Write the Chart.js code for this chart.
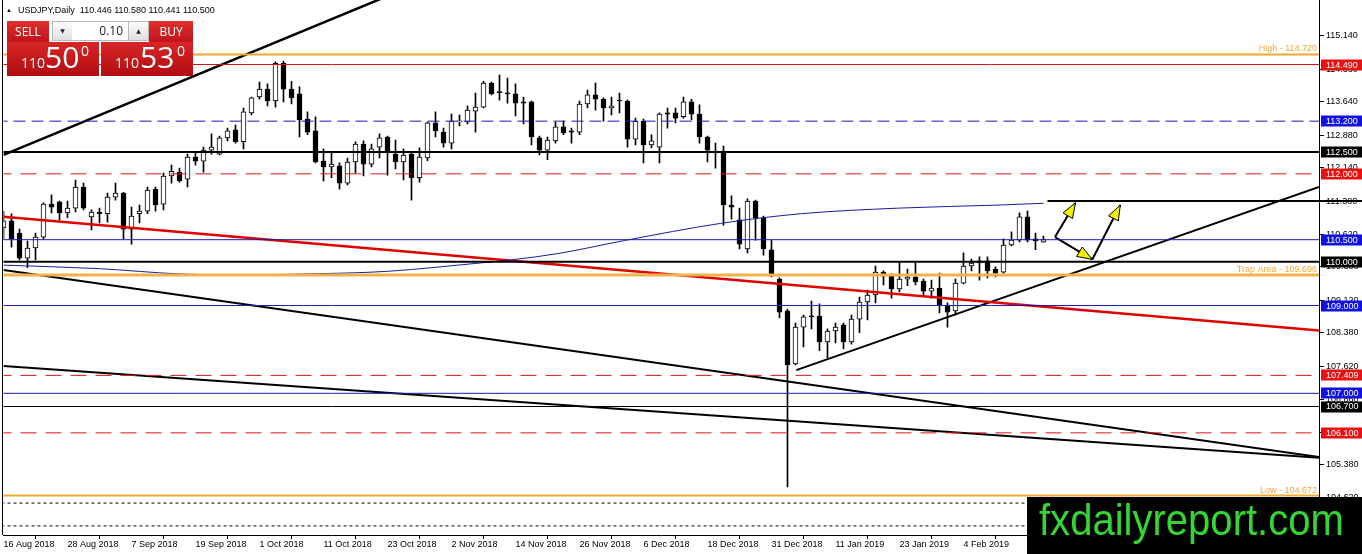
<!DOCTYPE html>
<html>
<head>
<meta charset="utf-8">
<script src="https://cdn.jsdelivr.net/npm/chart.js@4.4.1/dist/chart.umd.min.js"></script>
<style>
  html, body { margin: 0; padding: 0; background: #fff; }
  #wrap { position: relative; width: 1362px; height: 554px; overflow: hidden; }
  #chart { position: absolute; left: 0; top: 0; }
  .ui { position: absolute; font-family: 'Liberation Sans', Arial, sans-serif; white-space: pre; }
  #tri { left: 6px; top: 6px; font-size: 6px; line-height: 9px; }
  #hdr { left: 18px; top: 6px; font-size: 9px; line-height: 9px; color: #000; }
  .red { background: linear-gradient(#e0302f, #c0141a); color: #fff; }
  .btn { top: 21px; height: 21px; font: 12px 'Open Sans', sans-serif; line-height: 21px; text-align: center; }
  #sell { left: 7px; width: 42px; }
  #buy { left: 149px; width: 44px; }
  .spin { top: 21px; height: 18px; border: 1px solid #b9b9b9; background: linear-gradient(#fdfdfd, #dedede);
          font-size: 6px; line-height: 18px; text-align: center; color: #222; font-family: 'DejaVu Sans', sans-serif; }
  #down { left: 52px; width: 19px; }
  #up { left: 128px; width: 19px; }
  #lot { top: 21px; left: 72px; width: 51px; height: 18px; padding-right: 5px; border-top: 1px solid #b9b9b9; border-bottom: 1px solid #b9b9b9;
         background: #fff; font: 12px 'Open Sans', sans-serif; line-height: 18px; text-align: right; color: #222; }
  .big { top: 42px; width: 92px; height: 34px; background: linear-gradient(#d82628, #b20d10); color: #fff; }
  .big span { position: absolute; font-family: 'Open Sans', sans-serif; line-height: 1; }
  .s { font-size: 14px; top: 14px; }
  .b { font-size: 30px; top: 0px; }
  .p { font-size: 14px; top: 2px; }
  #bigS { left: 7px; }
  #bigB { left: 101px; }
  #mark { left: 1027px; top: 497px; width: 335px; height: 57px; background: #000; }
  #mark span { position: absolute; left: 12px; top: 1px; font: 44px 'Liberation Sans', Arial, sans-serif; line-height: 44px;
               color: #35d633; transform: scaleX(0.91); transform-origin: left top; }
</style>
</head>
<body>
<div id="wrap">
  <canvas id="chart" width="1362" height="554"></canvas>
  <div class="ui" id="tri">▲</div>
  <div class="ui" id="hdr">USDJPY,Daily  110.446 110.580 110.441 110.500</div>
  <div class="ui btn red" id="sell">SELL</div>
  <div class="ui spin" id="down">▼</div>
  <div class="ui" id="lot">0.10</div>
  <div class="ui spin" id="up">▲</div>
  <div class="ui btn red" id="buy">BUY</div>
  <div class="ui big" id="bigS"><span class="s" style="left:14px">110</span><span class="b" style="left:38px">50</span><span class="p" style="left:74px">0</span></div>
  <div class="ui big" id="bigB"><span class="s" style="left:14px">110</span><span class="b" style="left:39px">53</span><span class="p" style="left:76px">0</span></div>
  <div class="ui" id="mark"><span>fxdailyreport.com</span></div>
</div>
<script>
/* ---------- daten ---------- */
const dateLabels = ['16 Aug 2018', '28 Aug 2018', '7 Sep 2018', '19 Sep 2018', '1 Oct 2018', '11 Oct 2018',
  '23 Oct 2018', '2 Nov 2018', '14 Nov 2018', '26 Nov 2018', '6 Dec 2018', '18 Dec 2018', '31 Dec 2018',
  '11 Jan 2019', '23 Jan 2019', '4 Feb 2019'];
const dateTickBars = [0, 8, 16, 24, 32, 40, 48, 56, 64, 72, 80, 88, 96, 104, 112, 120];
const priceTicks = [115.14, 114.38, 113.64, 112.88, 112.14, 111.38, 110.62, 109.88, 109.12, 108.38,
  107.62, 106.86, 106.10, 105.38, 104.62];

// daily candles, bar 0 = 16 Aug 2018
const opens = [110.77, 110.93, 110.65, 110.08, 110.31, 110.56, 111.31, 111.36, 111.11, 111.22,
  111.70, 111.02, 111.13, 111.09, 111.47, 111.56, 110.74, 111.09, 111.15, 111.65,
  111.31, 111.95, 112.04, 111.88, 112.38, 112.29, 112.54, 112.45, 112.82, 113.00,
  112.73, 113.39, 113.75, 113.93, 113.66, 114.52, 113.93, 113.82, 113.25, 112.98,
  112.29, 112.16, 112.18, 111.79, 112.27, 112.68, 112.22, 112.61, 112.84, 112.45,
  112.27, 112.45, 111.91, 112.36, 113.16, 112.95, 112.70, 113.18, 113.18, 113.43,
  113.52, 114.07, 113.87, 113.84, 113.82, 113.64, 113.64, 112.82, 112.54, 112.75,
  113.07, 112.98, 112.95, 113.59, 113.80, 113.70, 113.50, 113.68, 113.66, 112.79,
  113.20, 112.66, 112.61, 113.39, 113.39, 113.30, 113.64, 113.36, 112.84, 112.50,
  112.52, 111.29, 110.95, 110.29, 111.38, 111.00, 110.27, 109.60, 108.88, 107.67,
  108.51, 108.76, 108.76, 108.17, 108.42, 108.56, 108.17, 108.69, 109.08, 109.24,
  109.76, 109.67, 109.38, 109.60, 109.65, 109.56, 109.33, 109.40, 109.01, 108.88,
  109.51, 109.90, 110.02, 110.02, 109.83, 109.76, 110.38, 110.49, 111.02, 110.52,
  110.446];
const highs = [111.15, 111.09, 110.74, 110.47, 110.65, 111.34, 111.52, 111.38, 111.38, 111.86,
  111.79, 111.18, 111.22, 111.56, 111.79, 111.58, 111.24, 111.29, 111.70, 111.70,
  112.02, 112.20, 112.13, 112.45, 112.47, 112.61, 112.91, 112.86, 113.04, 113.11,
  113.50, 113.75, 114.09, 114.05, 114.55, 114.57, 114.11, 113.98, 113.41, 113.30,
  112.57, 112.50, 112.25, 112.36, 112.73, 112.75, 112.68, 112.91, 112.86, 112.77,
  112.57, 112.50, 112.59, 113.18, 113.41, 113.04, 113.36, 113.34, 113.55, 113.84,
  114.11, 114.09, 114.25, 114.18, 114.05, 113.75, 113.66, 112.86, 112.84, 113.18,
  113.20, 113.04, 113.66, 113.91, 114.07, 113.73, 113.75, 113.84, 113.68, 113.27,
  113.25, 112.89, 113.39, 113.50, 113.50, 113.75, 113.70, 113.57, 112.86, 112.70,
  112.63, 111.50, 111.22, 111.43, 111.40, 111.04, 110.49, 109.63, 108.92, 108.60,
  108.78, 109.10, 109.04, 108.47, 108.60, 108.60, 108.78, 109.19, 109.35, 109.90,
  109.79, 109.72, 109.99, 109.83, 109.97, 109.60, 109.58, 109.74, 109.06, 109.60,
  110.20, 110.06, 110.11, 110.11, 109.88, 110.52, 110.68, 111.11, 111.15, 110.65,
  110.58];
const lows = [110.52, 110.33, 110.04, 109.86, 110.04, 110.52, 111.11, 110.95, 111.00, 111.13,
  111.18, 110.72, 110.88, 110.90, 111.40, 110.52, 110.40, 110.88, 111.09, 111.15,
  111.18, 111.79, 111.81, 111.70, 112.20, 112.04, 112.45, 112.43, 112.75, 112.70,
  112.57, 113.34, 113.70, 113.55, 113.52, 113.64, 113.59, 112.84, 112.89, 112.25,
  111.84, 111.91, 111.65, 111.75, 112.02, 111.95, 112.16, 112.36, 111.97, 112.11,
  111.86, 111.40, 111.81, 112.30, 112.84, 112.61, 112.57, 113.09, 113.14, 112.95,
  113.50, 113.80, 113.68, 113.61, 113.32, 113.14, 112.66, 112.43, 112.32, 112.70,
  112.89, 112.70, 112.89, 113.50, 113.45, 113.20, 113.34, 113.39, 112.61, 112.66,
  112.25, 112.59, 112.25, 113.04, 113.16, 113.27, 113.23, 112.70, 112.27, 112.13,
  110.83, 110.97, 110.29, 110.20, 110.49, 110.15, 109.65, 108.72, 104.87, 107.65,
  108.06, 108.47, 107.97, 107.81, 108.15, 108.01, 108.12, 108.38, 108.67, 109.06,
  109.47, 109.17, 109.31, 109.45, 109.47, 109.20, 109.17, 108.83, 108.51, 108.78,
  109.49, 109.79, 109.58, 109.63, 109.65, 109.74, 110.36, 110.45, 110.45, 110.27,
  110.441];
const closes = [110.93, 110.52, 110.08, 110.31, 110.56, 111.31, 111.24, 111.11, 111.22, 111.70,
  111.22, 111.13, 111.09, 111.47, 111.56, 110.74, 111.04, 111.15, 111.63, 111.29,
  111.95, 112.06, 111.84, 112.38, 112.29, 112.54, 112.61, 112.82, 112.98, 112.73,
  113.41, 113.73, 113.93, 113.66, 114.52, 113.93, 113.73, 113.23, 112.95, 112.27,
  112.16, 112.22, 111.79, 112.27, 112.68, 112.22, 112.57, 112.82, 112.48, 112.27,
  112.43, 111.91, 112.38, 113.16, 112.98, 112.70, 113.20, 113.21, 113.45, 113.52,
  114.07, 113.82, 113.85, 113.82, 113.61, 113.61, 112.84, 112.54, 112.77, 113.07,
  112.93, 112.95, 113.59, 113.80, 113.70, 113.50, 113.55, 113.66, 112.79, 113.20,
  112.66, 112.75, 113.36, 113.36, 113.27, 113.64, 113.36, 112.84, 112.54, 112.48,
  111.29, 111.24, 110.40, 111.38, 111.00, 110.29, 109.67, 108.85, 107.65, 108.51,
  108.74, 108.74, 108.17, 108.42, 108.51, 108.17, 108.69, 109.08, 109.24, 109.76,
  109.67, 109.38, 109.60, 109.65, 109.54, 109.33, 109.40, 109.01, 108.85, 109.51,
  109.90, 109.97, 109.97, 109.79, 109.74, 110.38, 110.49, 111.02, 110.49, 110.47,
  110.50];

// moving average
const maBars = [0, 12, 22, 28.6, 40.6, 48, 59.6, 63.5, 69.5, 77.6, 89.6, 99.6, 112, 124.6, 130];
const maValues = [109.92, 109.84, 109.72, 109.70, 109.73, 109.78, 109.97, 110.04, 110.19, 110.48,
  110.87, 111.09, 111.22, 111.29, 111.33];

// horizontal levels
const levelPrices = [114.72, 114.49, 113.2, 112.5, 112.0, 110.5, 110.0, 109.696, 109.0, 107.409,
  107.0, 106.7, 106.1, 104.672, 104.50, 103.98];
const levelKinds = ['orange', 'redThin', 'blueDash', 'black', 'redDash', 'blue', 'black', 'trap', 'blue',
  'redDash', 'blue', 'blackThin', 'redDash', 'orange', 'dotted', 'dotted'];

// tagged prices on the right axis
const tagPrices = [114.49, 113.2, 112.5, 112.0, 110.5, 110.0, 109.0, 107.409, 107.0, 106.7, 106.1];
const tagKinds = ['red', 'blue', 'black', 'red', 'blue', 'black', 'blue', 'red', 'blue', 'black', 'red'];

const noteTexts = ['High - 114.720', 'Trap Area - 109.696', 'Low - 104.672'];
const notePrices = [114.72, 109.696, 104.672];

// trend lines as [bar, price] pairs
const upperTrend = [[0, 112.43], [48, 116.05]];
const redTrend = [[0, 111.02], [164.44, 108.43]];
const downTrendA = [[0, 109.81], [164.44, 105.55]];
const downTrendB = [[0, 107.62], [164.44, 105.53]];
const supportTrend = [[99.1, 107.53], [164.44, 111.70]];
const resistLine = [[130.5, 111.38], [170, 111.38]];
const arrowPaths = [
  [[131.44, 110.56], [134.0, 111.34]],
  [[131.44, 110.56], [136.1, 110.05]],
  [[136.1, 110.05], [139.6, 111.29]]
];

/* ---------- styles ---------- */
const FONT = "'Liberation Sans', Arial, sans-serif";
const levelStyle = {
  orange:    { color: '#f0a830', width: 2, dash: [] },
  trap:      { color: '#f2b24a', width: 3, dash: [] },
  redThin:   { color: '#d01010', width: 1, dash: [] },
  redDash:   { color: '#d81818', width: 1, dash: [16, 9] },
  blue:      { color: '#1a1aa8', width: 1, dash: [] },
  blueDash:  { color: '#1a1ab8', width: 1, dash: [12, 6] },
  black:     { color: '#000', width: 2, dash: [] },
  blackThin: { color: '#000', width: 1, dash: [] },
  dotted:    { color: '#000', width: 1, dash: [3, 3] }
};
const tagColor = { red: '#e81010', blue: '#1010e0', black: '#000' };

function lineSet(points, color, width, extra) {
  return Object.assign({
    type: 'line',
    data: points.map(function (p) { return { x: p[0], y: p[1] }; }),
    borderColor: color, borderWidth: width, pointRadius: 0, fill: false, tension: 0, order: 0
  }, extra || {});
}

const idx = opens.map(function (_, i) { return i; });
const datasets = [];

levelPrices.forEach(function (v, i) {
  const st = levelStyle[levelKinds[i]];
  datasets.push(lineSet([[-1, v], [166, v]], st.color, st.width, { borderDash: st.dash }));
});
datasets.push(lineSet(maBars.map(function (b, i) { return [b, maValues[i]]; }), '#1c1ca0', 1,
  { cubicInterpolationMode: 'monotone' }));
datasets.push(lineSet(redTrend, '#e00000', 2.5));
datasets.push(lineSet(upperTrend, '#000', 2.5));
datasets.push(lineSet(downTrendA, '#000', 2));
datasets.push(lineSet(downTrendB, '#000', 2));
datasets.push(lineSet(supportTrend, '#000', 2));
datasets.push(lineSet(resistLine, '#000', 2, { clip: { left: 0, top: 0, right: 50, bottom: 0 } }));
arrowPaths.forEach(function (p) { datasets.push(lineSet(p, '#000', 2)); });

// candle bodies and wicks
datasets.push({
  type: 'bar', order: 5, grouped: false, barThickness: 5, minBarLength: 1,
  data: idx.map(function (i) { return { x: i, y: [opens[i], closes[i]] }; }),
  backgroundColor: idx.map(function (i) { return closes[i] >= opens[i] ? '#fff' : '#000'; }),
  borderColor: '#000', borderWidth: 1, borderSkipped: false
});
datasets.push({
  type: 'bar', order: 6, grouped: false, barThickness: 1,
  data: idx.map(function (i) { return { x: i, y: [lows[i], highs[i]] }; }),
  backgroundColor: '#000', borderWidth: 0
});

const overlay = {
  id: 'overlay',
  afterDatasetsDraw(chart) {
    const c = chart.ctx, xs = chart.scales.x, ys = chart.scales.y, a = chart.chartArea;
    c.save();
    // left frame
    c.fillStyle = '#000';
    c.fillRect(2, 0, 1, a.bottom);
    // notes on the orange levels
    c.font = '9px ' + FONT;
    c.fillStyle = '#f0a838';
    c.textAlign = 'right';
    c.textBaseline = 'alphabetic';
    noteTexts.forEach(function (t, i) {
      c.fillText(t, a.right - 2, ys.getPixelForValue(notePrices[i]) - 3);
    });
    // arrow heads
    arrowPaths.forEach(function (p) {
      const x0 = xs.getPixelForValue(p[0][0]), y0 = ys.getPixelForValue(p[0][1]);
      const x1 = xs.getPixelForValue(p[1][0]), y1 = ys.getPixelForValue(p[1][1]);
      const ang = Math.atan2(y1 - y0, x1 - x0);
      const len = 15, half = 5.5;
      const bx = x1 - Math.cos(ang) * len, by = y1 - Math.sin(ang) * len;
      c.beginPath();
      c.moveTo(x1, y1);
      c.lineTo(bx + Math.sin(ang) * half, by - Math.cos(ang) * half);
      c.lineTo(bx - Math.sin(ang) * half, by + Math.cos(ang) * half);
      c.closePath();
      c.fillStyle = '#f2f200';
      c.fill();
      c.lineWidth = 1;
      c.strokeStyle = '#000';
      c.stroke();
    });
    c.restore();
  },
  afterDraw(chart) {
    const c = chart.ctx, ys = chart.scales.y, a = chart.chartArea;
    c.save();
    c.font = '9px ' + FONT;
    c.textAlign = 'left';
    c.textBaseline = 'middle';
    tagPrices.forEach(function (v, i) {
      const y = ys.getPixelForValue(v);
      c.fillStyle = tagColor[tagKinds[i]];
      c.fillRect(a.right + 2, Math.round(y) - 5.5, 43, 11);
      c.fillStyle = '#fff';
      c.fillText(v.toFixed(3), a.right + 7, y + 0.5);
    });
    c.restore();
  }
};

new Chart(document.getElementById('chart'), {
  type: 'bar',
  data: { datasets: datasets },
  options: {
    responsive: false, animation: false, events: [],
    layout: { padding: { left: 3.5, top: 0, right: 0, bottom: 0 }, autoPadding: false },
    plugins: { legend: { display: false }, tooltip: { enabled: false } },
    scales: {
      x: {
        type: 'linear', min: 0, max: 164.44, offset: false,
        grid: { drawOnChartArea: false, drawTicks: true, tickLength: 4, color: '#000' },
        border: { display: true, color: '#000' },
        afterBuildTicks: function (s) { s.ticks = dateTickBars.map(function (v) { return { value: v }; }); },
        afterFit: function (s) { s.height = 19; s.paddingLeft = 0; s.paddingRight = 0; },
        ticks: {
          autoSkip: false, maxRotation: 0, align: 'start', padding: 0, color: '#000',
          font: { family: FONT, size: 9 },
          callback: function (v, i) { return dateLabels[i]; }
        }
      },
      y: {
        type: 'linear', position: 'right', min: 103.773, max: 115.96,
        grid: { drawOnChartArea: false, drawTicks: true, tickLength: 5, color: '#000' },
        border: { display: true, color: '#000' },
        afterBuildTicks: function (s) { s.ticks = priceTicks.map(function (v) { return { value: v }; }); },
        afterFit: function (s) { s.width = 43; s.paddingTop = 0; s.paddingBottom = 0; },
        ticks: {
          padding: 2, color: '#000', font: { family: FONT, size: 9 },
          callback: function (v) { return v.toFixed(3); }
        }
      }
    }
  },
  plugins: [overlay]
});
</script>
</body>
</html>
